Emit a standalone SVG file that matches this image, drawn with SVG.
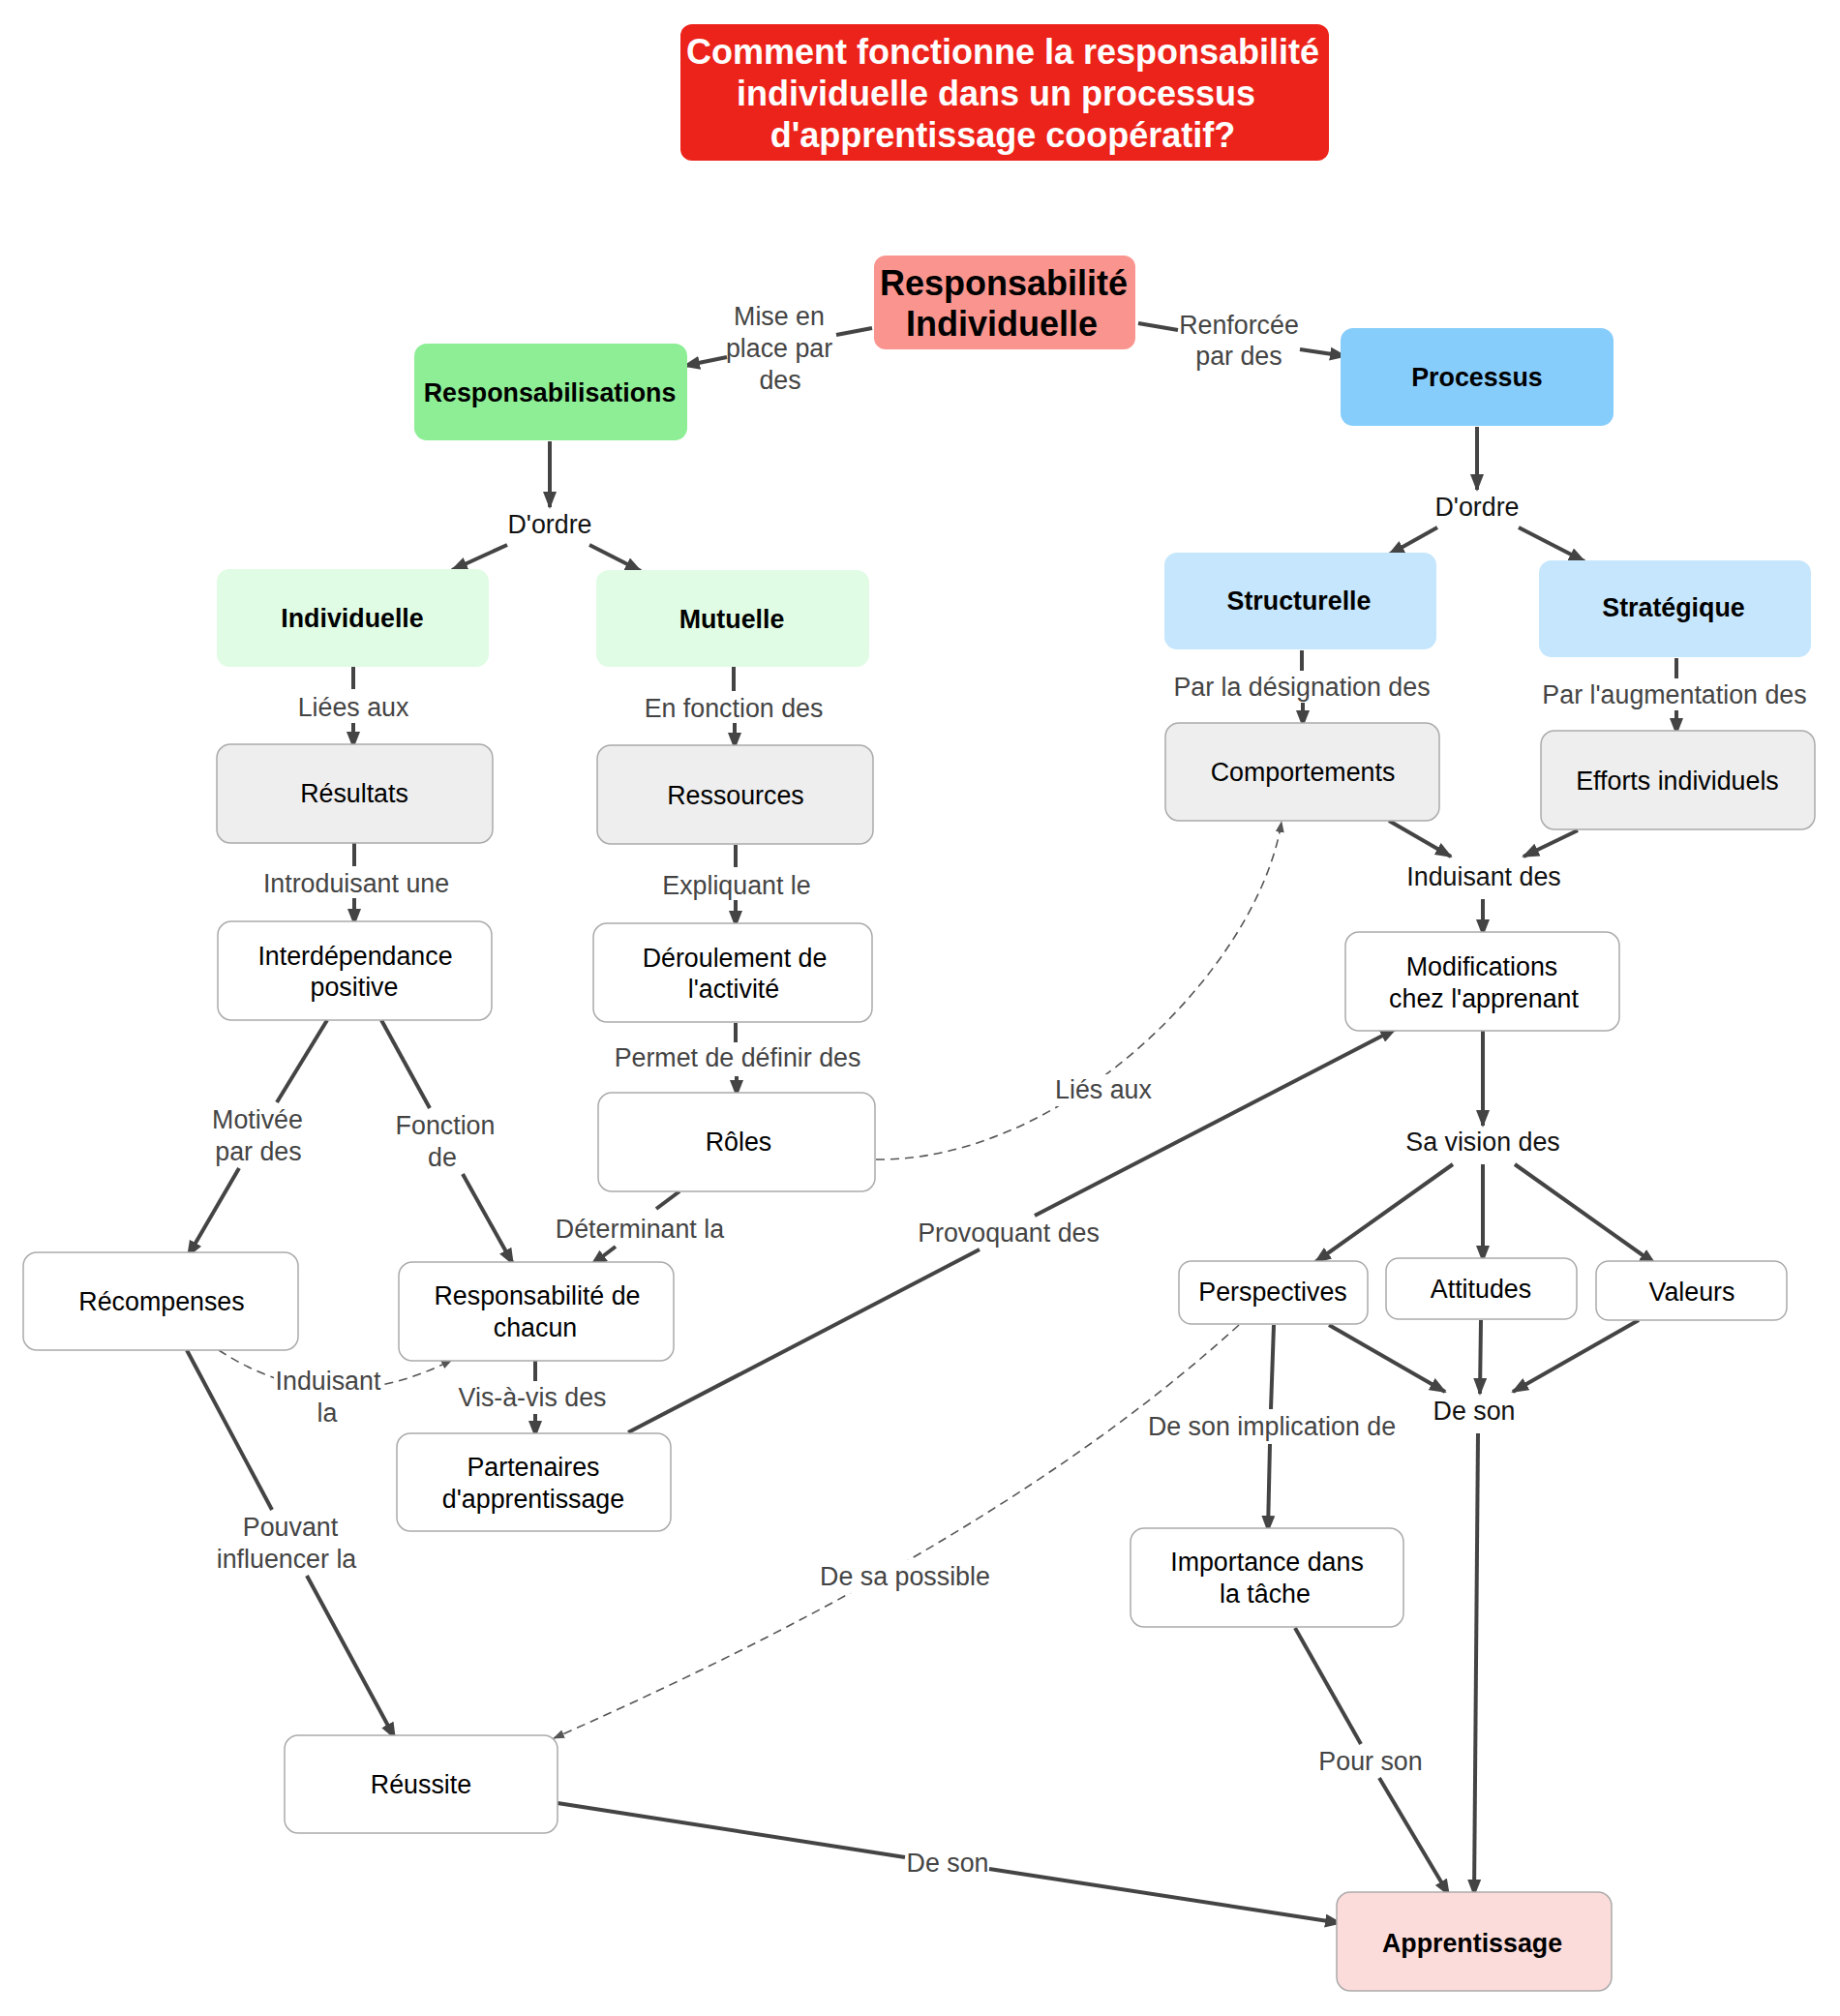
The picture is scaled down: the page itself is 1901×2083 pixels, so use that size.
<svg xmlns="http://www.w3.org/2000/svg" width="1901" height="2083" viewBox="0 0 1901 2083">
<defs>
<style>
text{font-family:"Liberation Sans",Arial,sans-serif;text-anchor:middle}
.tt{font-size:36px;font-weight:bold;fill:#ffffff}
.big{font-size:36px;font-weight:bold;fill:#000}
.b{font-size:26.8px;font-weight:bold;fill:#000}
.n{font-size:26.8px;fill:#000}
.h{font-size:26.8px;fill:#111}
.l{font-size:26.8px;fill:#444}
.box{stroke:#ababab;stroke-width:1.5}
.e{fill:none;stroke:#444;stroke-width:4}
.d{fill:none;stroke:#555;stroke-width:1.6;stroke-dasharray:9 6}
</style>
<marker id="a" markerUnits="userSpaceOnUse" markerWidth="18" markerHeight="14" refX="16" refY="7" orient="auto"><path d="M0,0 L18,7 L0,14 z" fill="#444"/></marker>
<marker id="s" markerUnits="userSpaceOnUse" markerWidth="12" markerHeight="9" refX="11" refY="4.5" orient="auto"><path d="M0,0 L12,4.5 L0,9 z" fill="#555"/></marker>
</defs>
<rect width="1901" height="2083" fill="#ffffff"/>

<g id="connectors">
<path class="e" d="M901,339 L864,346"/><path class="e" d="M751,369 L707,378" marker-end="url(#a)"/>
<path class="e" d="M1176,334 L1217,341"/><path class="e" d="M1343,361 L1390,368" marker-end="url(#a)"/>
<path class="e" d="M568,456 L568,524" marker-end="url(#a)"/>
<path class="e" d="M524,563 L467,589" marker-end="url(#a)"/>
<path class="e" d="M609,563 L662,590" marker-end="url(#a)"/>
<path class="e" d="M1526,441 L1526,506" marker-end="url(#a)"/>
<path class="e" d="M1485,545 L1435,573" marker-end="url(#a)"/>
<path class="e" d="M1569,545 L1637,580" marker-end="url(#a)"/>
<path class="e" d="M365,689 L365,712"/><path class="e" d="M365,747 L365,772" marker-end="url(#a)"/>
<path class="e" d="M366,871 L366,895"/><path class="e" d="M366,928 L366,955" marker-end="url(#a)"/>
<path class="e" d="M758,689 L758,714"/><path class="e" d="M759,747 L759,773" marker-end="url(#a)"/>
<path class="e" d="M760,873 L760,896"/><path class="e" d="M760,930 L760,957" marker-end="url(#a)"/>
<path class="e" d="M760,1057 L760,1077"/><path class="e" d="M761,1112 L761,1132" marker-end="url(#a)"/>
<path class="e" d="M338,1054 L286,1139"/><path class="e" d="M247,1207 L194,1298" marker-end="url(#a)"/>
<path class="e" d="M394,1054 L444,1145"/><path class="e" d="M478,1213 L530,1306" marker-end="url(#a)"/>
<path class="e" d="M702,1231 L678,1249"/><path class="e" d="M636,1288 L611,1307" marker-end="url(#a)"/>
<path class="e" d="M553,1406 L553,1427"/><path class="e" d="M553,1461 L553,1484" marker-end="url(#a)"/>
<path class="e" d="M649,1480 L1012,1291"/><path class="e" d="M1069,1256 L1442,1063" marker-end="url(#a)"/>
<path class="e" d="M1345,672 L1345,693"/><path class="e" d="M1346,726 L1346,750" marker-end="url(#a)"/>
<path class="e" d="M1732,680 L1732,701"/><path class="e" d="M1732,734 L1732,758" marker-end="url(#a)"/>
<path class="e" d="M1435,848 L1499,885" marker-end="url(#a)"/>
<path class="e" d="M1630,858 L1574,885" marker-end="url(#a)"/>
<path class="e" d="M1532,929 L1532,966" marker-end="url(#a)"/>
<path class="e" d="M1532,1065 L1532,1163" marker-end="url(#a)"/>
<path class="e" d="M1501,1203 L1359,1304" marker-end="url(#a)"/>
<path class="e" d="M1532,1203 L1532,1303" marker-end="url(#a)"/>
<path class="e" d="M1565,1203 L1710,1306" marker-end="url(#a)"/>
<path class="e" d="M1373,1369 L1493,1438" marker-end="url(#a)"/>
<path class="e" d="M1530,1364 L1529,1440" marker-end="url(#a)"/>
<path class="e" d="M1693,1364 L1563,1438" marker-end="url(#a)"/>
<path class="e" d="M1527,1481 L1523,1958" marker-end="url(#a)"/>
<path class="e" d="M1316,1369 L1313,1456"/><path class="e" d="M1312,1492 L1310,1582" marker-end="url(#a)"/>
<path class="e" d="M1338,1682 L1406,1802"/><path class="e" d="M1425,1837 L1497,1958" marker-end="url(#a)"/>
<path class="e" d="M193,1395 L281,1560"/><path class="e" d="M317,1628 L408,1796" marker-end="url(#a)"/>
<path class="e" d="M576,1863 L935,1919"/><path class="e" d="M1022,1931 L1385,1987" marker-end="url(#a)"/>
<path class="d" d="M905,1198 C1100,1200 1300,1000 1324,849" marker-end="url(#s)"/>
<path class="d" d="M226,1395 Q340,1470 467,1405" marker-end="url(#s)"/>
<path class="d" d="M1280,1369 Q1035,1592 572,1796" marker-end="url(#s)"/>
<rect x="1089" y="1110" width="102" height="33" fill="#ffffff"/>
<rect x="283" y="1411" width="112" height="64" fill="#ffffff"/>
<rect x="845" y="1612" width="180" height="34" fill="#ffffff"/>
<text class="l" x="805" y="336">Mise en</text>
<text class="l" x="805" y="369">place par</text>
<text class="l" x="806" y="402">des</text>
<text class="l" x="1280" y="345">Renforcée</text>
<text class="l" x="1280" y="377">par des</text>
<text class="l" x="365" y="740">Liées aux</text>
<text class="l" x="368" y="922">Introduisant une</text>
<text class="l" x="758" y="741">En fonction des</text>
<text class="l" x="761" y="924">Expliquant le</text>
<text class="l" x="762" y="1102">Permet de définir des</text>
<text class="l" x="266" y="1166">Motivée</text>
<text class="l" x="267" y="1199">par des</text>
<text class="l" x="460" y="1172">Fonction</text>
<text class="l" x="457" y="1205">de</text>
<text class="l" x="661" y="1279">Déterminant la</text>
<text class="l" x="550" y="1453">Vis-à-vis des</text>
<text class="l" x="339" y="1436">Induisant</text>
<text class="l" x="338" y="1469">la</text>
<text class="l" x="300" y="1587">Pouvant</text>
<text class="l" x="296" y="1620">influencer la</text>
<text class="l" x="1042" y="1283">Provoquant des</text>
<text class="l" x="1140" y="1135">Liés aux</text>
<text class="l" x="1345" y="719">Par la désignation des</text>
<text class="l" x="1730" y="727">Par l'augmentation des</text>
<text class="l" x="1314" y="1483">De son implication de</text>
<text class="l" x="935" y="1638">De sa possible</text>
<text class="l" x="1416" y="1829">Pour son</text>
<text class="l" x="979" y="1934">De son</text>
</g>

<g id="n-title"><rect x="703" y="25" width="670" height="141" rx="12" fill="#ec231a"/>
<text class="tt" x="1036" y="66">Comment fonctionne la responsabilité</text>
<text class="tt" x="1029" y="109">individuelle dans un processus</text>
<text class="tt" x="1036" y="152">d'apprentissage coopératif?</text></g>

<g id="n-resind"><rect x="903" y="264" width="270" height="97" rx="12" fill="#f9958e"/>
<text class="big" x="1037" y="305">Responsabilité</text>
<text class="big" x="1035" y="347">Individuelle</text></g>

<g id="n-responsabilisations"><rect x="428" y="355" width="282" height="100" rx="13" fill="#8dee95"/>
<text class="b" x="568" y="415">Responsabilisations</text></g>

<g id="n-processus"><rect x="1385" y="339" width="282" height="101" rx="13" fill="#87cdfb"/>
<text class="b" x="1526" y="399">Processus</text></g>

<g id="h-dordre1"><text class="h" x="568" y="551">D'ordre</text></g>
<g id="h-dordre2"><text class="h" x="1526" y="533">D'ordre</text></g>

<g id="n-individuelle"><rect x="224" y="588" width="281" height="101" rx="13" fill="#e0fce4"/>
<text class="b" x="364" y="648">Individuelle</text></g>

<g id="n-mutuelle"><rect x="616" y="589" width="282" height="100" rx="13" fill="#e0fce4"/>
<text class="b" x="756" y="649">Mutuelle</text></g>

<g id="n-structurelle"><rect x="1203" y="571" width="281" height="100" rx="13" fill="#c5e6fc"/>
<text class="b" x="1342" y="630">Structurelle</text></g>

<g id="n-strategique"><rect x="1590" y="579" width="281" height="100" rx="13" fill="#c5e6fc"/>
<text class="b" x="1729" y="637">Stratégique</text></g>

<g id="n-resultats"><rect class="box" x="224" y="769" width="285" height="102" rx="14" fill="#eeeeee"/>
<text class="n" x="366" y="829">Résultats</text></g>

<g id="n-ressources"><rect class="box" x="617" y="770" width="285" height="102" rx="14" fill="#eeeeee"/>
<text class="n" x="760" y="831">Ressources</text></g>

<g id="n-comportements"><rect class="box" x="1204" y="747" width="283" height="101" rx="14" fill="#eeeeee"/>
<text class="n" x="1346" y="807">Comportements</text></g>

<g id="n-efforts"><rect class="box" x="1592" y="755" width="283" height="102" rx="14" fill="#eeeeee"/>
<text class="n" x="1733" y="816">Efforts individuels</text></g>

<g id="h-induisant"><text class="h" x="1533" y="915">Induisant des</text></g>

<g id="n-interdependance"><rect class="box" x="225" y="952" width="283" height="102" rx="14" fill="#ffffff"/>
<text class="n" x="367" y="997">Interdépendance</text>
<text class="n" x="366" y="1029">positive</text></g>

<g id="n-deroulement"><rect class="box" x="613" y="954" width="288" height="102" rx="14" fill="#ffffff"/>
<text class="n" x="759" y="999">Déroulement de</text>
<text class="n" x="758" y="1031">l'activité</text></g>

<g id="n-modifications"><rect class="box" x="1390" y="963" width="283" height="102" rx="14" fill="#ffffff"/>
<text class="n" x="1531" y="1008">Modifications</text>
<text class="n" x="1533" y="1041">chez l'apprenant</text></g>

<g id="n-roles"><rect class="box" x="618" y="1129" width="286" height="102" rx="14" fill="#ffffff"/>
<text class="n" x="763" y="1189">Rôles</text></g>

<g id="h-savision"><text class="h" x="1532" y="1189">Sa vision des</text></g>

<g id="n-recompenses"><rect class="box" x="24" y="1294" width="284" height="101" rx="14" fill="#ffffff"/>
<text class="n" x="167" y="1354">Récompenses</text></g>

<g id="n-respchacun"><rect class="box" x="412" y="1304" width="284" height="102" rx="14" fill="#ffffff"/>
<text class="n" x="555" y="1348">Responsabilité de</text>
<text class="n" x="553" y="1381">chacun</text></g>

<g id="n-perspectives"><rect class="box" x="1218" y="1303" width="195" height="65" rx="13" fill="#ffffff"/>
<text class="n" x="1315" y="1344">Perspectives</text></g>

<g id="n-attitudes"><rect class="box" x="1432" y="1300" width="197" height="63" rx="13" fill="#ffffff"/>
<text class="n" x="1530" y="1341">Attitudes</text></g>

<g id="n-valeurs"><rect class="box" x="1649" y="1303" width="197" height="61" rx="13" fill="#ffffff"/>
<text class="n" x="1748" y="1344">Valeurs</text></g>

<g id="h-deson"><text class="h" x="1523" y="1467">De son</text></g>

<g id="n-partenaires"><rect class="box" x="410" y="1481" width="283" height="101" rx="14" fill="#ffffff"/>
<text class="n" x="551" y="1525">Partenaires</text>
<text class="n" x="551" y="1558">d'apprentissage</text></g>

<g id="n-importance"><rect class="box" x="1168" y="1579" width="282" height="102" rx="14" fill="#ffffff"/>
<text class="n" x="1309" y="1623">Importance dans</text>
<text class="n" x="1307" y="1656">la tâche</text></g>

<g id="n-reussite"><rect class="box" x="294" y="1793" width="282" height="101" rx="14" fill="#ffffff"/>
<text class="n" x="435" y="1853">Réussite</text></g>

<g id="n-apprentissage"><rect class="box" x="1381" y="1955" width="284" height="102" rx="14" fill="#fcdcda"/>
<text class="b" x="1521" y="2017">Apprentissage</text></g>
</svg>
